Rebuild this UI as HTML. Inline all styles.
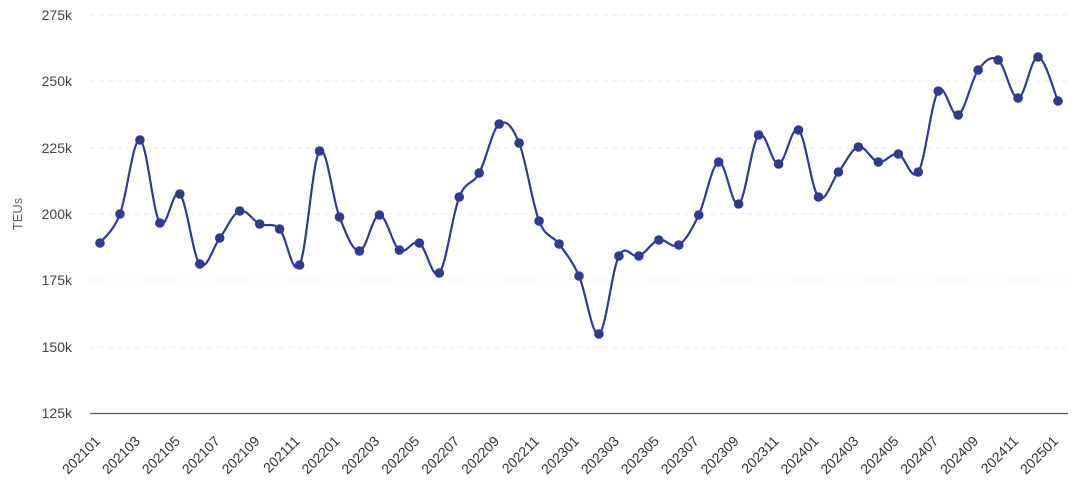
<!DOCTYPE html>
<html><head><meta charset="utf-8"><style>
html,body{margin:0;padding:0;background:#fff;}
svg{display:block;font-family:"Liberation Sans",sans-serif;}
</style></head><body>
<svg id="c" width="1077" height="500" xmlns="http://www.w3.org/2000/svg"></svg>
<script>
const ys=[243,214,140,223,194,264,238,211,224,229,265,151,217,251,215,250,243,273,197,173,124,143,221,244,276,334,256,256,240,245,215,162,204,135,164,130,197,172,147,162,154,172,91,115,70,60,98,57,101];
const svg=document.getElementById('c');
let h='';
const grid=[15,81,148,214,280,347];
const lab=['275k','250k','225k','200k','175k','150k'];
grid.forEach((y,i)=>{h+=`<line x1="90" x2="1068" y1="${y}" y2="${y}" stroke="#ececec" stroke-dasharray="5,4"/>`;h+=`<text x="72" y="${y+5}" text-anchor="end" font-size="14" fill="#444">${lab[i]}</text>`;});
h+=`<text x="72" y="418" text-anchor="end" font-size="14" fill="#444">125k</text>`;
h+=`<line x1="90" x2="1068" y1="413.5" y2="413.5" stroke="#555" stroke-width="1.2"/>`;
h+=`<text transform="translate(22,214) rotate(-90)" text-anchor="middle" font-size="13" fill="#666">TEUs</text>`;
const X=i=>100+i*(1058-100)/48;
for(let i=0;i<49;i+=2){const yr=2021+Math.floor(i/12);const m=(i%12)+1;const t=yr+''+(m<10?'0':'')+m;
h+=`<text transform="translate(${X(i)+1},${442}) rotate(-45)" text-anchor="end" font-size="14" fill="#333">${t}</text>`;}
let d=`M${X(0)},${ys[0]}`;const k=0.35;
for(let i=0;i<48;i++){const p0=[X(Math.max(0,i-1)),ys[Math.max(0,i-1)]],p1=[X(i),ys[i]],p2=[X(i+1),ys[i+1]],p3=[X(Math.min(48,i+2)),ys[Math.min(48,i+2)]];
const c1=[p1[0]+(p2[0]-p0[0])*k/2,p1[1]+(p2[1]-p0[1])*k/2],c2=[p2[0]-(p3[0]-p1[0])*k/2,p2[1]-(p3[1]-p1[1])*k/2];
d+=` C${c1[0].toFixed(1)},${c1[1].toFixed(1)} ${c2[0].toFixed(1)},${c2[1].toFixed(1)} ${p2[0].toFixed(1)},${p2[1]}`;}
h+=`<path d="${d}" fill="none" stroke="#2e3a94" stroke-width="2.2"/>`;
ys.forEach((y,i)=>{h+=`<circle cx="${X(i)}" cy="${y}" r="4.8" fill="#2e3a94"/>`;});
svg.innerHTML=h;
</script>
</body></html>
